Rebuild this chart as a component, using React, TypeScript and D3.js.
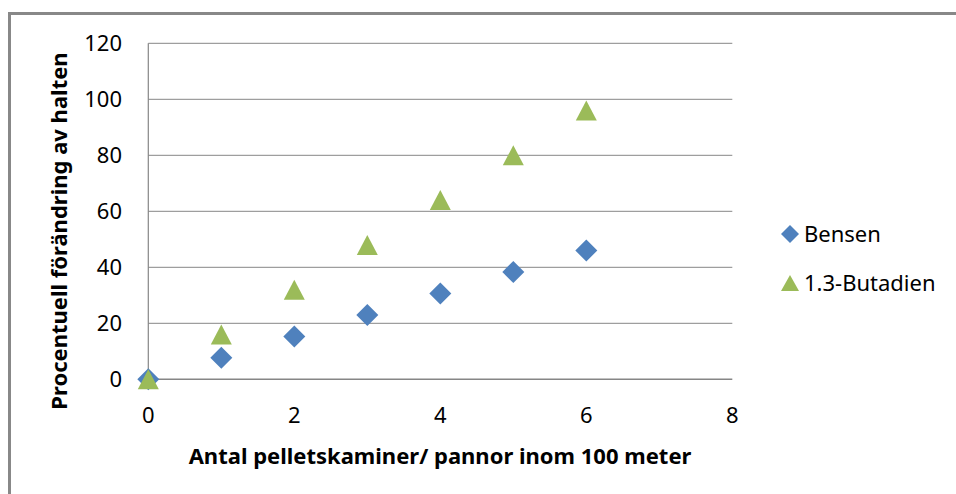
import React from "react";
import * as d3 from "d3";

const xValues = [0, 1, 2, 3, 4, 5, 6];
const bensen = [0, 7.7, 15.3, 23, 30.6, 38.3, 46];
const butadien = [0, 16, 32, 48, 64, 80, 96];
const yTicks = [0, 20, 40, 60, 80, 100, 120];
const xTicks = [0, 2, 4, 6, 8];
const seriesNames = ["Bensen", "1.3-Butadien"];

const BLUE = "#4F81BD";
const GREEN = "#9BBB59";
const GRID = "#868686";
const FONT = "'Noto Sans', 'Open Sans', sans-serif";

const diamond = (r: number) => `M0,${-r}L${r},0L0,${r}L${-r},0Z`;
const triangle = (w: number, h: number) =>
  `M0,${-h / 2}L${w / 2},${h / 2}L${-w / 2},${h / 2}Z`;

export default function App() {
  const width = 956;
  const height = 494;
  const plot = { left: 148.3, right: 732.3, top: 43.3, bottom: 379.3 };

  const x = d3.scaleLinear().domain([0, 8]).range([plot.left, plot.right]);
  const y = d3.scaleLinear().domain([0, 120]).range([plot.bottom, plot.top]);

  return (
    <>
      <style>{`body{margin:0}`}</style>
      <svg width={width} height={height} style={{ display: "block", fontFamily: FONT }}>
        <rect x={0} y={0} width={width} height={height} fill="#fff" />
        {/* outer chart frame, cut by the picture edge */}
        <rect x={9.5} y={13.5} width={width + 20} height={height + 20} fill="none" stroke="#888" strokeWidth={3} />

        {/* grid */}
        {yTicks.map((t) => (
          <line key={t} x1={plot.left} x2={plot.right} y1={y(t)} y2={y(t)} stroke={GRID} strokeWidth={t === 0 ? 1.5 : 1} />
        ))}
        <line x1={plot.left} x2={plot.left} y1={plot.top} y2={plot.bottom} stroke={GRID} strokeWidth={1.2} />

        {/* y tick labels */}
        {yTicks.map((t) => (
          <text key={t} x={122} y={y(t)} dy="0.35em" textAnchor="end" fontSize={22} fill="#000">
            {t}
          </text>
        ))}
        {/* x tick labels */}
        {xTicks.map((t) => (
          <text key={t} x={x(t)} y={423} textAnchor="middle" fontSize={22} fill="#000">
            {t}
          </text>
        ))}

        {/* axis titles */}
        <text x={440} y={464} textAnchor="middle" fontSize={22} fontWeight="bold" fill="#000">
          Antal pelletskaminer/ pannor inom 100 meter
        </text>
        <text transform="translate(67,231) rotate(-90)" textAnchor="middle" fontSize={22} fontWeight="bold" fill="#000">
          Procentuell förändring av halten
        </text>

        {/* series */}
        {xValues.map((v, i) => (
          <path key={"b" + i} d={diamond(11)} transform={`translate(${x(v)},${y(bensen[i])})`} fill={BLUE} />
        ))}
        {xValues.map((v, i) => (
          <path key={"g" + i} d={triangle(21, 20)} transform={`translate(${x(v)},${y(butadien[i])})`} fill={GREEN} />
        ))}

        {/* legend */}
        <path d={diamond(9)} transform="translate(790,234)" fill={BLUE} />
        <text x={804} y={234} dy="0.35em" fontSize={22} fill="#000">{seriesNames[0]}</text>
        <path d={triangle(18, 16)} transform="translate(790,283)" fill={GREEN} />
        <text x={804} y={283} dy="0.35em" fontSize={22} fill="#000">{seriesNames[1]}</text>
      </svg>
    </>
  );
}
